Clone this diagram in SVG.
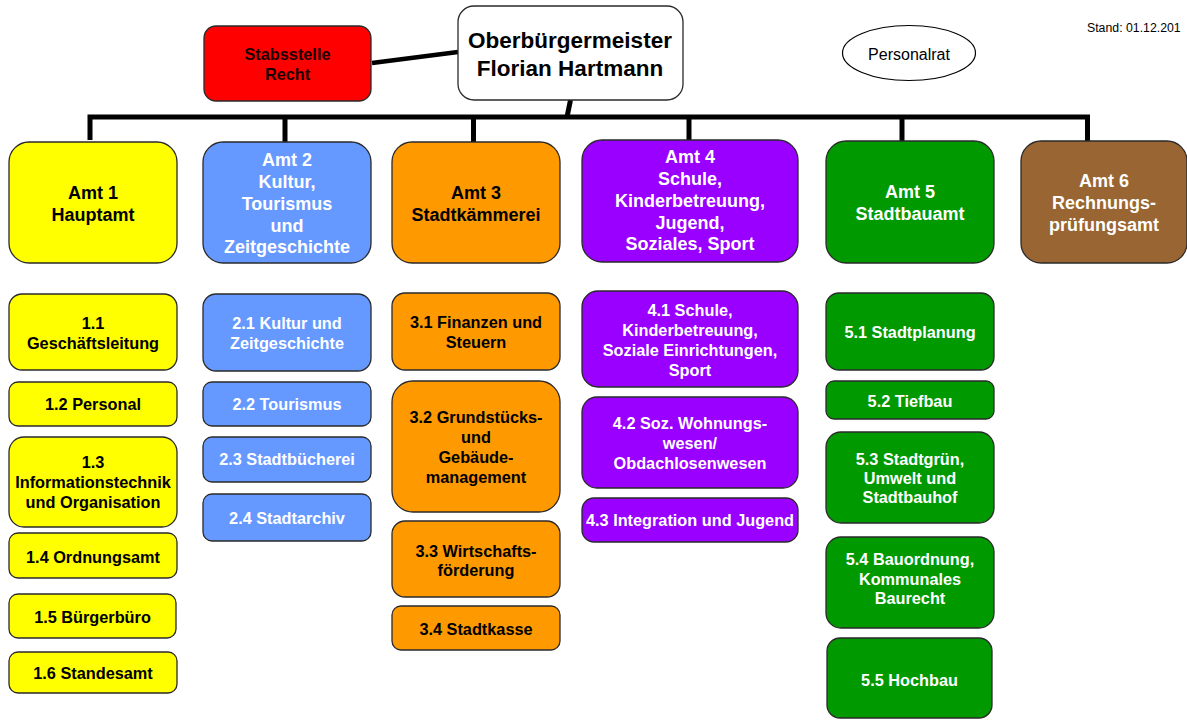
<svg xmlns="http://www.w3.org/2000/svg" width="1187" height="720" viewBox="0 0 1187 720">
<style>
text{font-family:"Liberation Sans",Arial,sans-serif;text-anchor:middle}
.b{stroke:#2a2a2a;stroke-width:1.3}
.t{font-size:22.5px;font-weight:bold;fill:#000}
.h{font-size:18px;font-weight:bold}
.s{font-size:16.3px;font-weight:bold}
.k{fill:#000}
.w{fill:#fff}
.yel{fill:#ffff00}.blu{fill:#6699ff}.ora{fill:#ff9900}.pur{fill:#9900ff}.grn{fill:#009900}.brn{fill:#996633}.red{fill:#ff0000}
.c{stroke:#000;stroke-width:5;fill:none}
</style>
<g id="connectors">
<line class="c" x1="372" y1="63" x2="458" y2="52" style="stroke-width:4.5"/>
<line class="c" x1="570.5" y1="100" x2="567" y2="117"/>
<polyline class="c" points="90,140 90,117 1087.5,117 1087.5,141"/>
<line class="c" x1="285" y1="117" x2="285" y2="142"/>
<line class="c" x1="473.5" y1="117" x2="473.5" y2="142"/>
<line class="c" x1="689" y1="117" x2="689" y2="140"/>
<line class="c" x1="902" y1="117" x2="902" y2="141"/>
</g>
<g id="ob"><rect class="b" x="458" y="6" width="225" height="94" rx="16" fill="#fff"/>
<text class="t" x="570" y="48">Oberbürgermeister</text><text class="t" x="570" y="76">Florian Hartmann</text></g>
<g id="stabsstelle"><rect class="b red" x="204" y="26" width="167" height="75" rx="12"/>
<text class="s" x="287.5" y="60" fill="#1a0000">Stabsstelle</text><text class="s" x="287.5" y="80" fill="#1a0000">Recht</text></g>
<g id="personalrat"><ellipse cx="909" cy="53" rx="66.5" ry="27.5" fill="#fff" stroke="#000" stroke-width="1.2"/>
<text x="909" y="60" style="font-size:16px" fill="#000">Personalrat</text></g>
<g id="stand"><text x="1087" y="31.5" style="font-size:12.3px;text-anchor:start" fill="#000">Stand: 01.12.201</text></g>

<g id="amt1"><rect class="b yel" x="9" y="142" width="168" height="121" rx="20"/>
<text class="h k" x="93" y="199">Amt 1</text><text class="h k" x="93" y="220.7">Hauptamt</text></g>
<g id="amt2"><rect class="b blu" x="203" y="142" width="168" height="121" rx="20"/>
<text class="h w" x="287" y="165.7">Amt 2</text><text class="h w" x="287" y="187.5">Kultur,</text><text class="h w" x="287" y="209.5">Tourismus</text><text class="h w" x="287" y="231.5">und</text><text class="h w" x="287" y="253.3">Zeitgeschichte</text></g>
<g id="amt3"><rect class="b ora" x="392" y="142" width="168" height="121" rx="20"/>
<text class="h k" x="476" y="199">Amt 3</text><text class="h k" x="476" y="220.7">Stadtkämmerei</text></g>
<g id="amt4"><rect class="b pur" x="582" y="140" width="216" height="122" rx="20"/>
<text class="h w" x="690" y="163.3">Amt 4</text><text class="h w" x="690" y="185">Schule,</text><text class="h w" x="690" y="206.7">Kinderbetreuung,</text><text class="h w" x="690" y="228.5">Jugend,</text><text class="h w" x="690" y="250.3">Soziales, Sport</text></g>
<g id="amt5"><rect class="b grn" x="826" y="141" width="168" height="122" rx="20"/>
<text class="h w" x="910" y="198.3">Amt 5</text><text class="h w" x="910" y="220">Stadtbauamt</text></g>
<g id="amt6"><rect class="b brn" x="1021" y="141" width="166" height="122" rx="20"/>
<text class="h w" x="1104" y="187.3">Amt 6</text><text class="h w" x="1104" y="209">Rechnungs-</text><text class="h w" x="1104" y="230.5">prüfungsamt</text></g>

<g id="a1-1"><rect class="b yel" x="9" y="294" width="168" height="76" rx="13"/>
<text class="s k" x="93" y="329.3">1.1</text><text class="s k" x="93" y="349.3">Geschäftsleitung</text></g>
<g id="a1-2"><rect class="b yel" x="9" y="382" width="168" height="44" rx="9"/>
<text class="s k" x="93" y="410">1.2 Personal</text></g>
<g id="a1-3"><rect class="b yel" x="9" y="437" width="168" height="90" rx="15"/>
<text class="s k" x="93" y="468.3">1.3</text><text class="s k" x="93" y="488.3">Informationstechnik</text><text class="s k" x="93" y="508.3">und Organisation</text></g>
<g id="a1-4"><rect class="b yel" x="9" y="533" width="168" height="45" rx="9"/>
<text class="s k" x="93" y="563.3">1.4 Ordnungsamt</text></g>
<g id="a1-5"><rect class="b yel" x="9" y="594" width="167" height="44" rx="9"/>
<text class="s k" x="92.5" y="623.3">1.5 Bürgerbüro</text></g>
<g id="a1-6"><rect class="b yel" x="9" y="652" width="168" height="41" rx="9"/>
<text class="s k" x="93" y="679.3">1.6 Standesamt</text></g>

<g id="a2-1"><rect class="b blu" x="203" y="294" width="168" height="77" rx="13"/>
<text class="s w" x="287" y="329.3">2.1 Kultur und</text><text class="s w" x="287" y="349.3">Zeitgeschichte</text></g>
<g id="a2-2"><rect class="b blu" x="203" y="382" width="168" height="44" rx="9"/>
<text class="s w" x="287" y="410">2.2 Tourismus</text></g>
<g id="a2-3"><rect class="b blu" x="203" y="437" width="168" height="45" rx="9"/>
<text class="s w" x="287" y="465">2.3 Stadtbücherei</text></g>
<g id="a2-4"><rect class="b blu" x="203" y="494" width="168" height="47" rx="9"/>
<text class="s w" x="287" y="524">2.4 Stadtarchiv</text></g>

<g id="a3-1"><rect class="b ora" x="392" y="293" width="168" height="77" rx="13"/>
<text class="s k" x="476" y="328.3">3.1 Finanzen und</text><text class="s k" x="476" y="348.3">Steuern</text></g>
<g id="a3-2"><rect class="b ora" x="392" y="381" width="168" height="131" rx="21"/>
<text class="s k" x="476" y="423.3">3.2 Grundstücks-</text><text class="s k" x="476" y="443.3">und</text><text class="s k" x="476" y="463.3">Gebäude-</text><text class="s k" x="476" y="483">management</text></g>
<g id="a3-3"><rect class="b ora" x="392" y="521" width="168" height="76" rx="13"/>
<text class="s k" x="476" y="556.7">3.3 Wirtschafts-</text><text class="s k" x="476" y="576.3">förderung</text></g>
<g id="a3-4"><rect class="b ora" x="392" y="606" width="168" height="44" rx="9"/>
<text class="s k" x="476" y="635">3.4 Stadtkasse</text></g>

<g id="a4-1"><rect class="b pur" x="582" y="291" width="216" height="96" rx="16"/>
<text class="s w" x="690" y="316">4.1 Schule,</text><text class="s w" x="690" y="336">Kinderbetreuung,</text><text class="s w" x="690" y="356">Soziale Einrichtungen,</text><text class="s w" x="690" y="376">Sport</text></g>
<g id="a4-2"><rect class="b pur" x="582" y="397" width="216" height="91" rx="15"/>
<text class="s w" x="690" y="429.3">4.2 Soz. Wohnungs-</text><text class="s w" x="690" y="449">wesen/</text><text class="s w" x="690" y="469.3">Obdachlosenwesen</text></g>
<g id="a4-3"><rect class="b pur" x="582" y="498" width="216" height="44" rx="12"/>
<text class="s w" x="690" y="526">4.3 Integration und Jugend</text></g>

<g id="a5-1"><rect class="b grn" x="826" y="293" width="168" height="77" rx="13"/>
<text class="s w" x="910" y="338.3">5.1 Stadtplanung</text></g>
<g id="a5-2"><rect class="b grn" x="826" y="381" width="168" height="38" rx="8"/>
<text class="s w" x="910" y="406.7">5.2 Tiefbau</text></g>
<g id="a5-3"><rect class="b grn" x="826" y="432" width="168" height="91" rx="15"/>
<text class="s w" x="910" y="465">5.3 Stadtgrün,</text><text class="s w" x="910" y="484">Umwelt und</text><text class="s w" x="910" y="503">Stadtbauhof</text></g>
<g id="a5-4"><rect class="b grn" x="826" y="537" width="168" height="91" rx="15"/>
<text class="s w" x="910" y="565">5.4 Bauordnung,</text><text class="s w" x="910" y="584.5">Kommunales</text><text class="s w" x="910" y="604">Baurecht</text></g>
<g id="a5-5"><rect class="b grn" x="827" y="638" width="165" height="80" rx="13"/>
<text class="s w" x="909.5" y="686">5.5 Hochbau</text></g>
</svg>
